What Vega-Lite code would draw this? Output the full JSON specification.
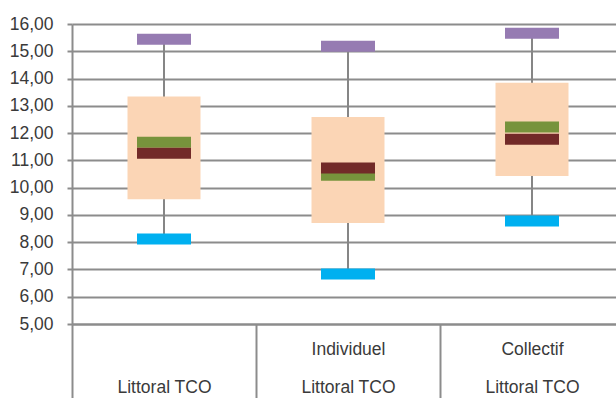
{
  "$schema": "https://vega.github.io/schema/vega-lite/v6.json",
  "autosize": "none",
  "padding": {"left": 72, "top": 24, "right": 0, "bottom": 74},
  "width": 544,
  "height": 300,
  "background": "white",
  "config": {
    "view": {"stroke": null},
    "font": "Liberation Sans",
    "axis": {"labelFont": "Liberation Sans", "labelFontSize": 17.5, "labelColor": "#3a3a3a", "title": null},
    "axisY": {"grid": true, "gridColor": "#8c8c8c", "gridWidth": 2, "tickColor": "#8c8c8c", "tickWidth": 2, "tickSize": 5,
      "labelPadding": 14, "labelOverlap": false, "labelBound": false, "labelFlush": false, "domainColor": "#8c8c8c", "domainWidth": 2}
  },
  "data": {
    "values": [
      {"cat": "|Littoral TCO", "min": 8.12, "q1": 9.57, "median": 11.26, "mean": 11.66, "q3": 13.34, "max": 15.44},
      {"cat": "Individuel|Littoral TCO", "min": 6.83, "q1": 8.70, "median": 10.72, "mean": 10.45, "q3": 12.59, "max": 15.18},
      {"cat": "Collectif|Littoral TCO", "min": 8.78, "q1": 10.43, "median": 11.77, "mean": 12.22, "q3": 13.85, "max": 15.66}
    ]
  },
  "encoding": {
    "x": {
      "field": "cat", "type": "nominal", "sort": null,
      "scale": {"range": [0, 552], "paddingInner": 0, "paddingOuter": 0},
      "axis": {
        "labelAngle": 0, "labelExpr": "split(datum.label, '|')", "labelBaseline": "top",
        "labelLineHeight": 38, "labelPadding": -58, "tickBand": "extent", "tickSize": 74,
        "tickColor": "#8c8c8c", "tickWidth": 2, "domainColor": "#8c8c8c", "domainWidth": 2,
        "labelOverlap": false, "labelLimit": 300
      }
    }
  },
  "layer": [
    {
      "mark": {"type": "rule", "stroke": "#868686", "strokeWidth": 2},
      "encoding": {
        "y": {"field": "min", "type": "quantitative", "scale": {"domain": [5, 16], "nice": false, "zero": false},
          "axis": {"values": [5,6,7,8,9,10,11,12,13,14,15,16], "tickCount": 20, "labelExpr": "replace(format(datum.value, '.2f'), '.', ',')"}},
        "y2": {"field": "max"}
      }
    },
    {
      "mark": {"type": "bar", "color": "#FBD5B5", "width": 73},
      "encoding": {"y": {"field": "q1", "type": "quantitative"}, "y2": {"field": "q3"}}
    },
    {
      "mark": {"type": "tick", "color": "#967BB2", "size": 54, "thickness": 11, "opacity": 1},
      "encoding": {"y": {"field": "max", "type": "quantitative"}}
    },
    {
      "mark": {"type": "tick", "color": "#00B0F0", "size": 54, "thickness": 11, "opacity": 1},
      "encoding": {"y": {"field": "min", "type": "quantitative"}}
    },
    {
      "mark": {"type": "tick", "color": "#77933C", "size": 54, "thickness": 11, "opacity": 1},
      "encoding": {"y": {"field": "mean", "type": "quantitative"}}
    },
    {
      "mark": {"type": "tick", "color": "#722A28", "size": 54, "thickness": 11, "opacity": 1},
      "encoding": {"y": {"field": "median", "type": "quantitative"}}
    }
  ]
}
